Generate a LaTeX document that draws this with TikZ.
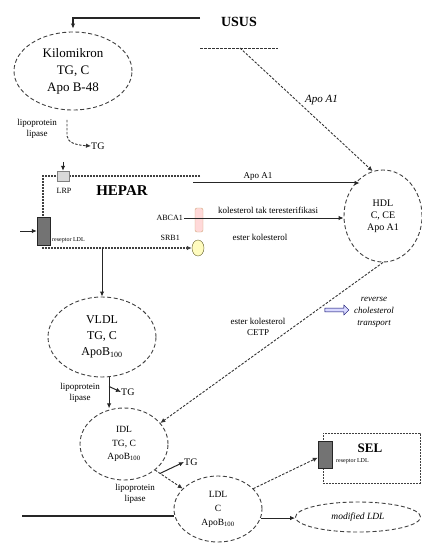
\documentclass[tikz,border=0pt]{standalone}
\usepackage{fontspec}
\setmainfont{Liberation Serif}
\usetikzlibrary{shapes.geometric,shapes.arrows,arrows.meta}
\begin{document}
\begin{tikzpicture}[x=1pt,y=-1pt,
  lip/.style={ellipse,draw=black!75,dash pattern=on 4pt off 2.5pt,line width=0.9pt,align=center,inner sep=0pt},
  conn/.style={line width=1pt,draw=black!85},
  arr/.style={-{Latex[length=5pt,width=4.5pt]}},
  dconn/.style={line width=0.9pt,draw=black!80,dash pattern=on 2.5pt off 1.5pt},
  hepline/.style={line width=1.4pt,draw=black!75,dash pattern=on 2pt off 1pt},
  lbl/.style={font=\fontsize{9}{10.5}\selectfont,align=center,inner sep=0pt},
  tinylbl/.style={font=\fontsize{6}{7}\selectfont,inner sep=0pt},
  boldlbl/.style={font=\bfseries\fontsize{14}{16}\selectfont,inner sep=0pt},
  recep/.style={draw=black!85,fill=black!55,inner sep=0pt},
]
\useasboundingbox (0,0) rectangle (421,545);

% ---- intestine and chylomicron
\node[boldlbl] (usus) at (239,22) {USUS};
\node[lip,minimum width=118,minimum height=78,font=\fontsize{13}{17}\selectfont] (kilo) at (73,71) {Kilomikron\\TG, C\\Apo B-48};
\coordinate (ustart) at (200,18);
\coordinate (ucorner) at (73,18);
\draw[conn,line width=1.6pt,arr,shorten >=3pt] (ustart) -- (ucorner) -- (kilo.north);
\coordinate (ul1) at (200,48);
\coordinate (ul2) at (278,48);
\draw[dconn] (ul1) -- (ul2);
\coordinate (ud) at (240,48);

% ---- HDL
\node[lip,minimum width=78,minimum height=92,font=\fontsize{10}{12}\selectfont] (hdl) at (383,216) {HDL\\C, CE\\Apo A1};
\draw[dconn,arr] (ud) -- (hdl.103);
\node[font=\itshape\fontsize{11}{12}\selectfont,anchor=west,inner sep=0pt] (apoa1a) at (305,100) {Apo A1};

% ---- lipoprotein lipase (chylomicron)
\node[lbl] (lpl1) at (37,129) {lipoprotein\\lipase};
\node[font=\fontsize{10}{11}\selectfont,inner sep=0pt,anchor=west] (tg1) at (91,146) {TG};
\coordinate (lp1) at (67,120);
\draw[dconn,arr] (lp1) -- (67,136) .. controls (68,142) and (74,145) .. (tg1.west);

% ---- liver
\node[ellipse,draw=olive!60!black,fill=yellow!25,minimum width=12,minimum height=16,inner sep=0pt] (srb1) at (198,248) {};
\coordinate (ht1) at (200,176);
\coordinate (htl) at (43,176);
\coordinate (hbl) at (43,248);
\draw[hepline,arr] (ht1) -- (htl) -- (hbl) -- (srb1.west);
\node[draw=black!50,fill=black!15,minimum width=12,minimum height=10,inner sep=0pt] (lrp) at (63,176) {};
\coordinate (lrpin) at (63,162);
\draw[conn,arr] (lrpin) -- (lrp.north);
\node[font=\fontsize{8}{9}\selectfont,inner sep=0pt] (lrplab) at (64,191) {LRP};
\node[boldlbl,font=\bfseries\fontsize{15}{16}\selectfont] (hepar) at (122,191) {HEPAR};
\node[recep,minimum width=13,minimum height=28] (rl1) at (43.5,231) {};
\coordinate (rin) at (20,231);
\draw[conn,arr] (rin) -- (rl1.west);
\node[tinylbl,anchor=west] (rl1lab) at (52,240) {reseptor LDL};

\node[draw=brown!70,fill=red!15,rounded corners=2pt,minimum width=8,minimum height=24,inner sep=0pt] (abca) at (199,220) {};
\node[font=\fontsize{8}{9}\selectfont,anchor=east,inner sep=1pt] (abcalab) at (184,218) {ABCA1};
\draw[conn,arr] (abcalab.east) -- (abcalab.east -| hdl.west);
\node[font=\fontsize{8}{9}\selectfont,anchor=east,inner sep=1pt] (srblab) at (181,238) {SRB1};
\node[lbl] (kte) at (268,210) {kolesterol tak teresterifikasi};
\node[lbl] (ek1) at (260,237) {ester kolesterol};

\coordinate (apo1) at (193,183);
\draw[conn,arr] (apo1) -- (apo1 -| hdl.122);
\node[lbl] (apoa1b) at (258,176) {Apo A1};

% ---- VLDL, IDL
\coordinate (hv) at (102,248);
\node[lip,minimum width=108,minimum height=80,font=\fontsize{12}{16}\selectfont] (vldl) at (102,337) {VLDL\\TG, C\\ApoB\textsubscript{100}};
\draw[conn,arr] (hv) -- (vldl.north);
\node[lip,minimum width=88,minimum height=72,font=\fontsize{9.5}{13.5}\selectfont] (idl) at (124,444) {IDL\\TG, C\\ApoB\textsubscript{100}};
\draw[conn,arr] (vldl.-80) -- coordinate[pos=0.3] (vb) (vldl.-80 |- idl.105);
\node[font=\fontsize{10}{11}\selectfont,inner sep=0pt,anchor=west] (tg2) at (121,392) {TG};
\draw[conn,arr] (vb) -- (tg2.west);
\node[lbl] (lpl2) at (80,393) {lipoprotein\\lipase};

% ---- HDL to IDL
\draw[dconn,arr] (hdl.south) -- (idl.30);
\node[lbl] (cetp) at (258,327) {ester kolesterol\\CETP};
\node[single arrow,draw=blue!40!black,fill=blue!15,minimum height=24,minimum width=10,single arrow head extend=2pt,inner sep=1pt] (rct) at (336,310) {};
\node[lbl,font=\itshape\fontsize{9}{12}\selectfont] (rcttext) at (374,312) {reverse\\cholesterol\\transport};

% ---- LDL
\node[lip,minimum width=88,minimum height=66,font=\fontsize{9.5}{14}\selectfont] (ldl) at (218,509) {LDL\\C\\ApoB\textsubscript{100}};
\draw[dconn,arr] (idl.-40) -- coordinate[pos=0.18] (ib) (ldl.150);
\node[font=\fontsize{10}{11}\selectfont,inner sep=0pt,anchor=west] (tg3) at (184,462) {TG};
\draw[conn,arr] (ib) -- (tg3.west);
\node[lbl] (lpl3) at (135,494) {lipoprotein\\lipase};
\coordinate (lin) at (22,516);
\draw[conn,line width=1.3pt] (lin) -- (lin -| ldl.west);

% ---- cell
\node[draw=black!75,dash pattern=on 2pt off 1pt,line width=1pt,minimum width=97,minimum height=50,inner sep=0pt] (sel) at (371.5,458) {};
\node[recep,minimum width=14,minimum height=27] (rl2) at (325,455) {};
\node[boldlbl,font=\bfseries\fontsize{13}{15}\selectfont] (seltxt) at (370,448) {SEL};
\node[tinylbl,anchor=west] (rl2lab) at (336,461) {reseptor LDL};
\draw[dconn,arr] (ldl.30) -- (rl2.-160);

\node[lip,minimum width=125,minimum height=30,font=\itshape\fontsize{9.5}{11}\selectfont] (mod) at (358,517) {modified LDL};
\draw[conn,arr] (ldl.-12) -- (ldl.-12 -| mod.west);
\end{tikzpicture}
\end{document}
